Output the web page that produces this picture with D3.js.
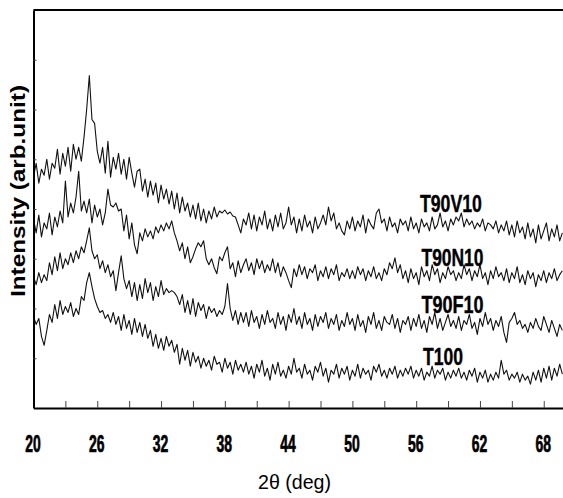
<!DOCTYPE html>
<html>
<head>
<meta charset="utf-8">
<script src="https://cdnjs.cloudflare.com/ajax/libs/d3/7.8.5/d3.min.js"></script>
<style>
  body { margin: 0; background: #fff; }
  .trace { fill: none; stroke: #111; stroke-width: 1.1; stroke-linejoin: round; }
</style>
</head>
<body>
<div id="xrd"></div>
<script>
// scan: 2theta from 20 deg, one reading every 0.25 deg
var thetaStart = 20;
var thetaStep = 0.25;

// sample names, top to bottom
var samples = ["T90V10", "T90N10", "T90F10", "T100"];

// intensities (arb.unit), one row = 5 deg
var t90v10 = [
  232,246,226,240,234,250,230,246,241,260,235,256,243,262,238,265,250,262,248,272,
  300,334,290,286,258,246,262,236,268,232,252,240,256,235,250,230,252,236,222,238,
  240,218,230,212,228,214,226,206,224,210,220,205,218,200,216,196,212,198,206,192,
  204,190,206,188,200,186,198,190,202,192,198,196,199,195,197,193,192,184,176,190,
  184,196,180,194,178,192,184,198,180,190,178,194,182,196,180,186,202,184,192,176,
  190,178,194,182,188,176,192,180,186,194,184,202,188,196,180,186,178,174,188,180,
  192,178,188,182,194,176,190,184,180,196,200,186,190,178,192,182,186,176,190,184,
  188,178,192,180,186,176,190,182,186,178,192,180,184,196,182,188,178,190,184,192,
  188,196,182,190,184,188,180,186,182,190,178,186,184,180,188,176,184,178,188,174,
  184,172,188,176,182,170,186,172,180,166,184,170,178,186,168,180,172,184,168,176
];

var t90n10 = [
  190,176,194,172,186,180,196,174,192,182,198,186,228,192,206,196,212,238,198,208,
  196,210,186,204,192,200,184,196,220,204,202,206,198,200,178,194,170,186,164,155,
  176,168,180,172,178,170,182,176,184,178,186,180,188,176,168,158,166,150,162,146,
  152,160,166,162,168,150,144,150,141,135,152,148,156,162,140,146,132,148,136,144,
  150,138,146,134,150,140,148,136,144,138,150,136,146,132,142,136,128,121,140,132,
  144,134,142,130,140,136,144,128,138,132,142,130,140,134,144,128,136,132,140,130,
  138,130,142,134,140,128,138,132,142,130,136,128,140,134,146,140,151,136,144,130,
  138,126,140,130,136,124,142,132,138,128,144,134,140,126,136,130,142,134,138,128,
  136,130,144,134,140,128,138,132,144,130,136,124,138,130,142,132,136,128,140,126,
  136,130,142,126,134,124,138,130,136,122,134,128,138,126,136,130,140,128,134,138
];

var t90f10 = [
  132,124,136,126,134,128,146,134,152,138,156,140,150,144,156,146,158,150,162,156,
  168,181,158,150,154,140,148,136,144,132,138,118,136,153,130,120,128,112,126,108,
  124,110,130,116,126,108,122,112,128,114,120,116,118,116,112,104,114,96,108,94,
  110,92,106,98,104,90,102,96,100,92,98,94,102,125,100,88,98,84,96,86,
  96,82,98,86,92,80,94,84,98,86,90,80,96,84,92,78,94,86,100,84,
  92,80,96,84,90,78,94,82,92,86,96,80,90,84,94,78,88,82,96,84,
  90,78,94,82,88,76,92,84,96,80,88,78,92,86,84,94,80,90,76,88,
  84,92,78,90,82,94,80,88,76,92,84,96,80,90,78,86,94,82,88,80,
  92,78,88,84,94,80,86,74,90,82,96,84,90,78,88,82,92,76,66,86,
  90,96,84,88,80,84,76,86,80,90,82,78,92,84,76,88,80,72,84,78
];

var t100 = [
  92,84,90,72,63,78,94,86,104,90,108,94,102,96,106,92,100,94,112,108,
  126,136,122,110,102,96,98,90,94,86,96,84,92,78,94,80,88,74,90,76,
  86,72,84,70,78,62,74,60,70,58,72,62,68,56,64,44,60,48,58,42,
  56,46,52,40,50,42,48,38,52,44,46,36,50,40,46,34,48,38,44,36,
  46,34,42,30,44,36,48,32,40,28,44,34,46,32,38,30,42,34,50,36,
  40,30,44,34,38,28,42,36,46,32,40,26,38,34,44,30,40,34,42,28,
  38,32,44,30,40,34,38,28,42,36,44,32,38,30,40,34,42,30,38,32,
  40,34,42,30,38,32,40,28,36,32,42,30,38,34,40,28,36,30,38,32,
  40,30,36,28,38,32,40,26,36,30,38,26,34,28,36,30,48,34,38,28,
  34,30,36,26,34,28,32,24,36,28,38,26,40,30,42,28,40,32,44,34
];

// axis ticks
var xTicks = [20, 23, 26, 29, 32, 35, 38, 41, 44, 47, 50, 53, 56, 59, 62, 65, 68];
var xTickLabels = [20, 26, 32, 38, 44, 50, 56, 62, 68];
var yTicks = [50, 100, 150, 200, 250, 300, 350];

function init(){

  var w = 563, h = 498;
  var series = [t90v10, t90n10, t90f10, t100];

  // where each sample name sits (2theta, intensity) and its drawn width
  var labelAt = [
    {t: 56.35, v: 197, len: 62},
    {t: 56.50, v: 143, len: 62},
    {t: 56.50, v: 95,  len: 62},
    {t: 56.65, v: 43,  len: 40}
  ];

  var xScale = d3.scaleLinear().domain([20, 70]).range([33.5, 565]);
  var yScale = d3.scaleLinear().domain([0, 400]).range([408, 10]);

  var svg = d3.select("#xrd")
              .append("svg")
              .attr("width", w)
              .attr("height", h)
              .style("display", "block")
              .style("background", "#fff");

  var line = d3.line()
      .x(function(d, i) { return xScale(thetaStart + i * thetaStep); })
      .y(function(d) { return yScale(d); });

  //traces
  svg.selectAll(".trace")
    .data(series)
    .enter()
    .append("path")
      .attr("class", "trace")
      .attr("d", line);

  //top frame line
  svg.append("line")
    .attr("x1", xScale(20)).attr("x2", w)
    .attr("y1", yScale(400)).attr("y2", yScale(400))
    .attr("stroke", "#000")
    .attr("stroke-width", 2);

  //x-axis, ticks point inward
  var xAxis = d3.axisBottom(xScale)
      .tickValues(xTicks)
      .tickSizeInner(-7)
      .tickSizeOuter(0)
      .tickFormat(function(d){ return xTickLabels.indexOf(d) >= 0 ? d : ""; });

  var gx = svg.append("g")
    .attr("transform", "translate(0," + yScale(0) + ")")
    .call(xAxis);

  gx.select(".domain").attr("stroke", "#000").attr("stroke-width", 2);
  gx.selectAll(".tick line").attr("stroke", "#444").attr("stroke-width", 1);
  gx.selectAll(".tick text")
    .attr("y", 44)
    .attr("dy", null)
    .attr("x", -1)
    .attr("fill", "#000")
    .attr("stroke", "#000")
    .attr("stroke-width", 0.7)
    .attr("font-size", null)
    .attr("font-family", null)
    .style("font", "bold 23px 'Liberation Sans', Arial, sans-serif")
    .attr("textLength", function(d){ return xTickLabels.indexOf(d) >= 0 ? 15.5 : null; })
    .attr("lengthAdjust", "spacingAndGlyphs");

  //y-axis, no labels
  var yAxis = d3.axisLeft(yScale)
      .tickValues(yTicks)
      .tickSizeInner(-3)
      .tickSizeOuter(0)
      .tickFormat("");

  var gy = svg.append("g")
    .attr("transform", "translate(" + xScale(20) + ",0)")
    .call(yAxis);

  gy.select(".domain").attr("stroke", "#000").attr("stroke-width", 2);
  gy.selectAll(".tick line").attr("stroke", "#444").attr("stroke-width", 1);

  //sample names
  svg.selectAll(".sample")
    .data(samples)
    .enter()
    .append("text")
      .attr("class", "sample")
      .attr("x", function(d, i){ return xScale(labelAt[i].t); })
      .attr("y", function(d, i){ return yScale(labelAt[i].v); })
      .attr("textLength", function(d, i){ return labelAt[i].len; })
      .attr("lengthAdjust", "spacingAndGlyphs")
      .attr("stroke", "#000")
      .attr("stroke-width", 0.4)
      .style("font", "bold 24px 'Liberation Sans', Arial, sans-serif")
      .text(function(d){ return d; });

  //y axis label
  svg.append("text")
    .attr("transform", "translate(25,191) rotate(-90)")
    .attr("text-anchor", "middle")
    .attr("textLength", 212)
    .attr("lengthAdjust", "spacingAndGlyphs")
    .style("font", "bold 21px 'Liberation Sans', Arial, sans-serif")
    .text("Intensity (arb.unit)");

  //x axis label
  svg.append("text")
    .attr("x", 258)
    .attr("y", 489)
    .attr("textLength", 73)
    .attr("lengthAdjust", "spacingAndGlyphs")
    .style("font", "20px 'Liberation Sans', Arial, sans-serif")
    .text("2θ (deg)");
}

window.onload = init;
</script>
</body>
</html>
